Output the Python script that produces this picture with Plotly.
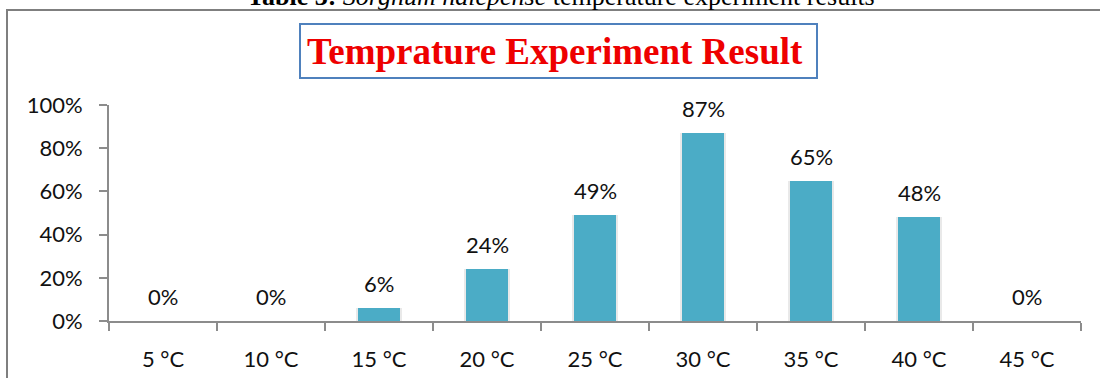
import plotly.graph_objects as go

# Germination rate at each temperature
temperatures = ["5 °C", "10 °C", "15 °C", "20 °C", "25 °C", "30 °C", "35 °C", "40 °C", "45 °C"]
germination = [0, 0, 6, 24, 49, 87, 65, 48, 0]
y_ticks = [0, 20, 40, 60, 80, 100]
y_tick_labels = [f"{v}%" for v in y_ticks]

W, H = 1100, 378
L, R, T, B = 109, 19, 105, 57
PW, PH = W - L - R, H - T - B


def px(x):
    return (x - L) / PW


def py(y):
    return (H - B - y) / PH


BAR = "#4bacc6"
AXIS = "#8c8c8c"
TICK_FONT = dict(family="Lato", size=22, color="#111111")

fig = go.Figure()

# soft glow behind each column
fig.add_trace(go.Bar(
    x=temperatures, y=germination, width=0.43,
    marker=dict(color="#e9e9e9", line=dict(width=0)),
    hoverinfo="skip", showlegend=False,
))
fig.add_trace(go.Bar(
    x=temperatures, y=germination, width=0.38,
    marker=dict(color=BAR, line=dict(width=0)),
    showlegend=False,
))

annotations = []
for cat, val in zip(temperatures, germination):
    annotations.append(dict(
        x=cat, y=val, xref="x", yref="y", text=f"{val}%",
        showarrow=False, yanchor="bottom", yshift=9,
        font=TICK_FONT,
    ))

# chart title inside its framed box
annotations.append(dict(
    x=px(555), y=py(51), xref="paper", yref="paper",
    text="<b>Temprature Experiment Result</b>", showarrow=False,
    xanchor="center", yanchor="middle",
    font=dict(family="Liberation Serif", size=37, color="#ee0000"),
))
# table caption above the frame
annotations.append(dict(
    x=px(561), y=py(13), xref="paper", yref="paper",
    text="<b>Table 3:</b> <i>Sorghum halepense</i> temperature experiment results",
    showarrow=False, xanchor="center", yanchor="bottom",
    font=dict(family="Liberation Serif", size=26, color="#000000"),
))

shapes = [
    dict(type="rect", xref="paper", yref="paper",
         x0=px(300), x1=px(817), y0=py(78), y1=py(24),
         line=dict(color="#4f81bd", width=2), fillcolor="rgba(0,0,0,0)"),
    dict(type="line", xref="paper", yref="paper",
         x0=px(6), x1=px(1110), y0=py(10), y1=py(10),
         line=dict(color="#7f7f7f", width=2)),
    dict(type="line", xref="paper", yref="paper",
         x0=px(7), x1=px(7), y0=py(10), y1=py(390),
         line=dict(color="#7f7f7f", width=2)),
]

fig.update_layout(
    width=W, height=H,
    margin=dict(l=L, r=R, t=T, b=B),
    paper_bgcolor="white", plot_bgcolor="white",
    barmode="overlay", bargap=0,
    annotations=annotations, shapes=shapes,
    showlegend=False,
)
fig.update_xaxes(
    type="category", showline=True, linecolor=AXIS, linewidth=2,
    ticks="outside", tickson="boundaries", ticklen=8, tickwidth=2, tickcolor=AXIS,
    tickfont=TICK_FONT, ticklabelstandoff=18, showgrid=False, zeroline=False,
    automargin=False,
)
fig.update_yaxes(
    range=[0, 100], tickmode="array", tickvals=y_ticks, ticktext=y_tick_labels,
    showline=True, linecolor=AXIS, linewidth=2,
    ticks="outside", ticklen=8, tickwidth=2, tickcolor=AXIS,
    tickfont=TICK_FONT, ticklabelstandoff=12, showgrid=False, zeroline=False,
    automargin=False,
)

fig.write_html("out.html")
